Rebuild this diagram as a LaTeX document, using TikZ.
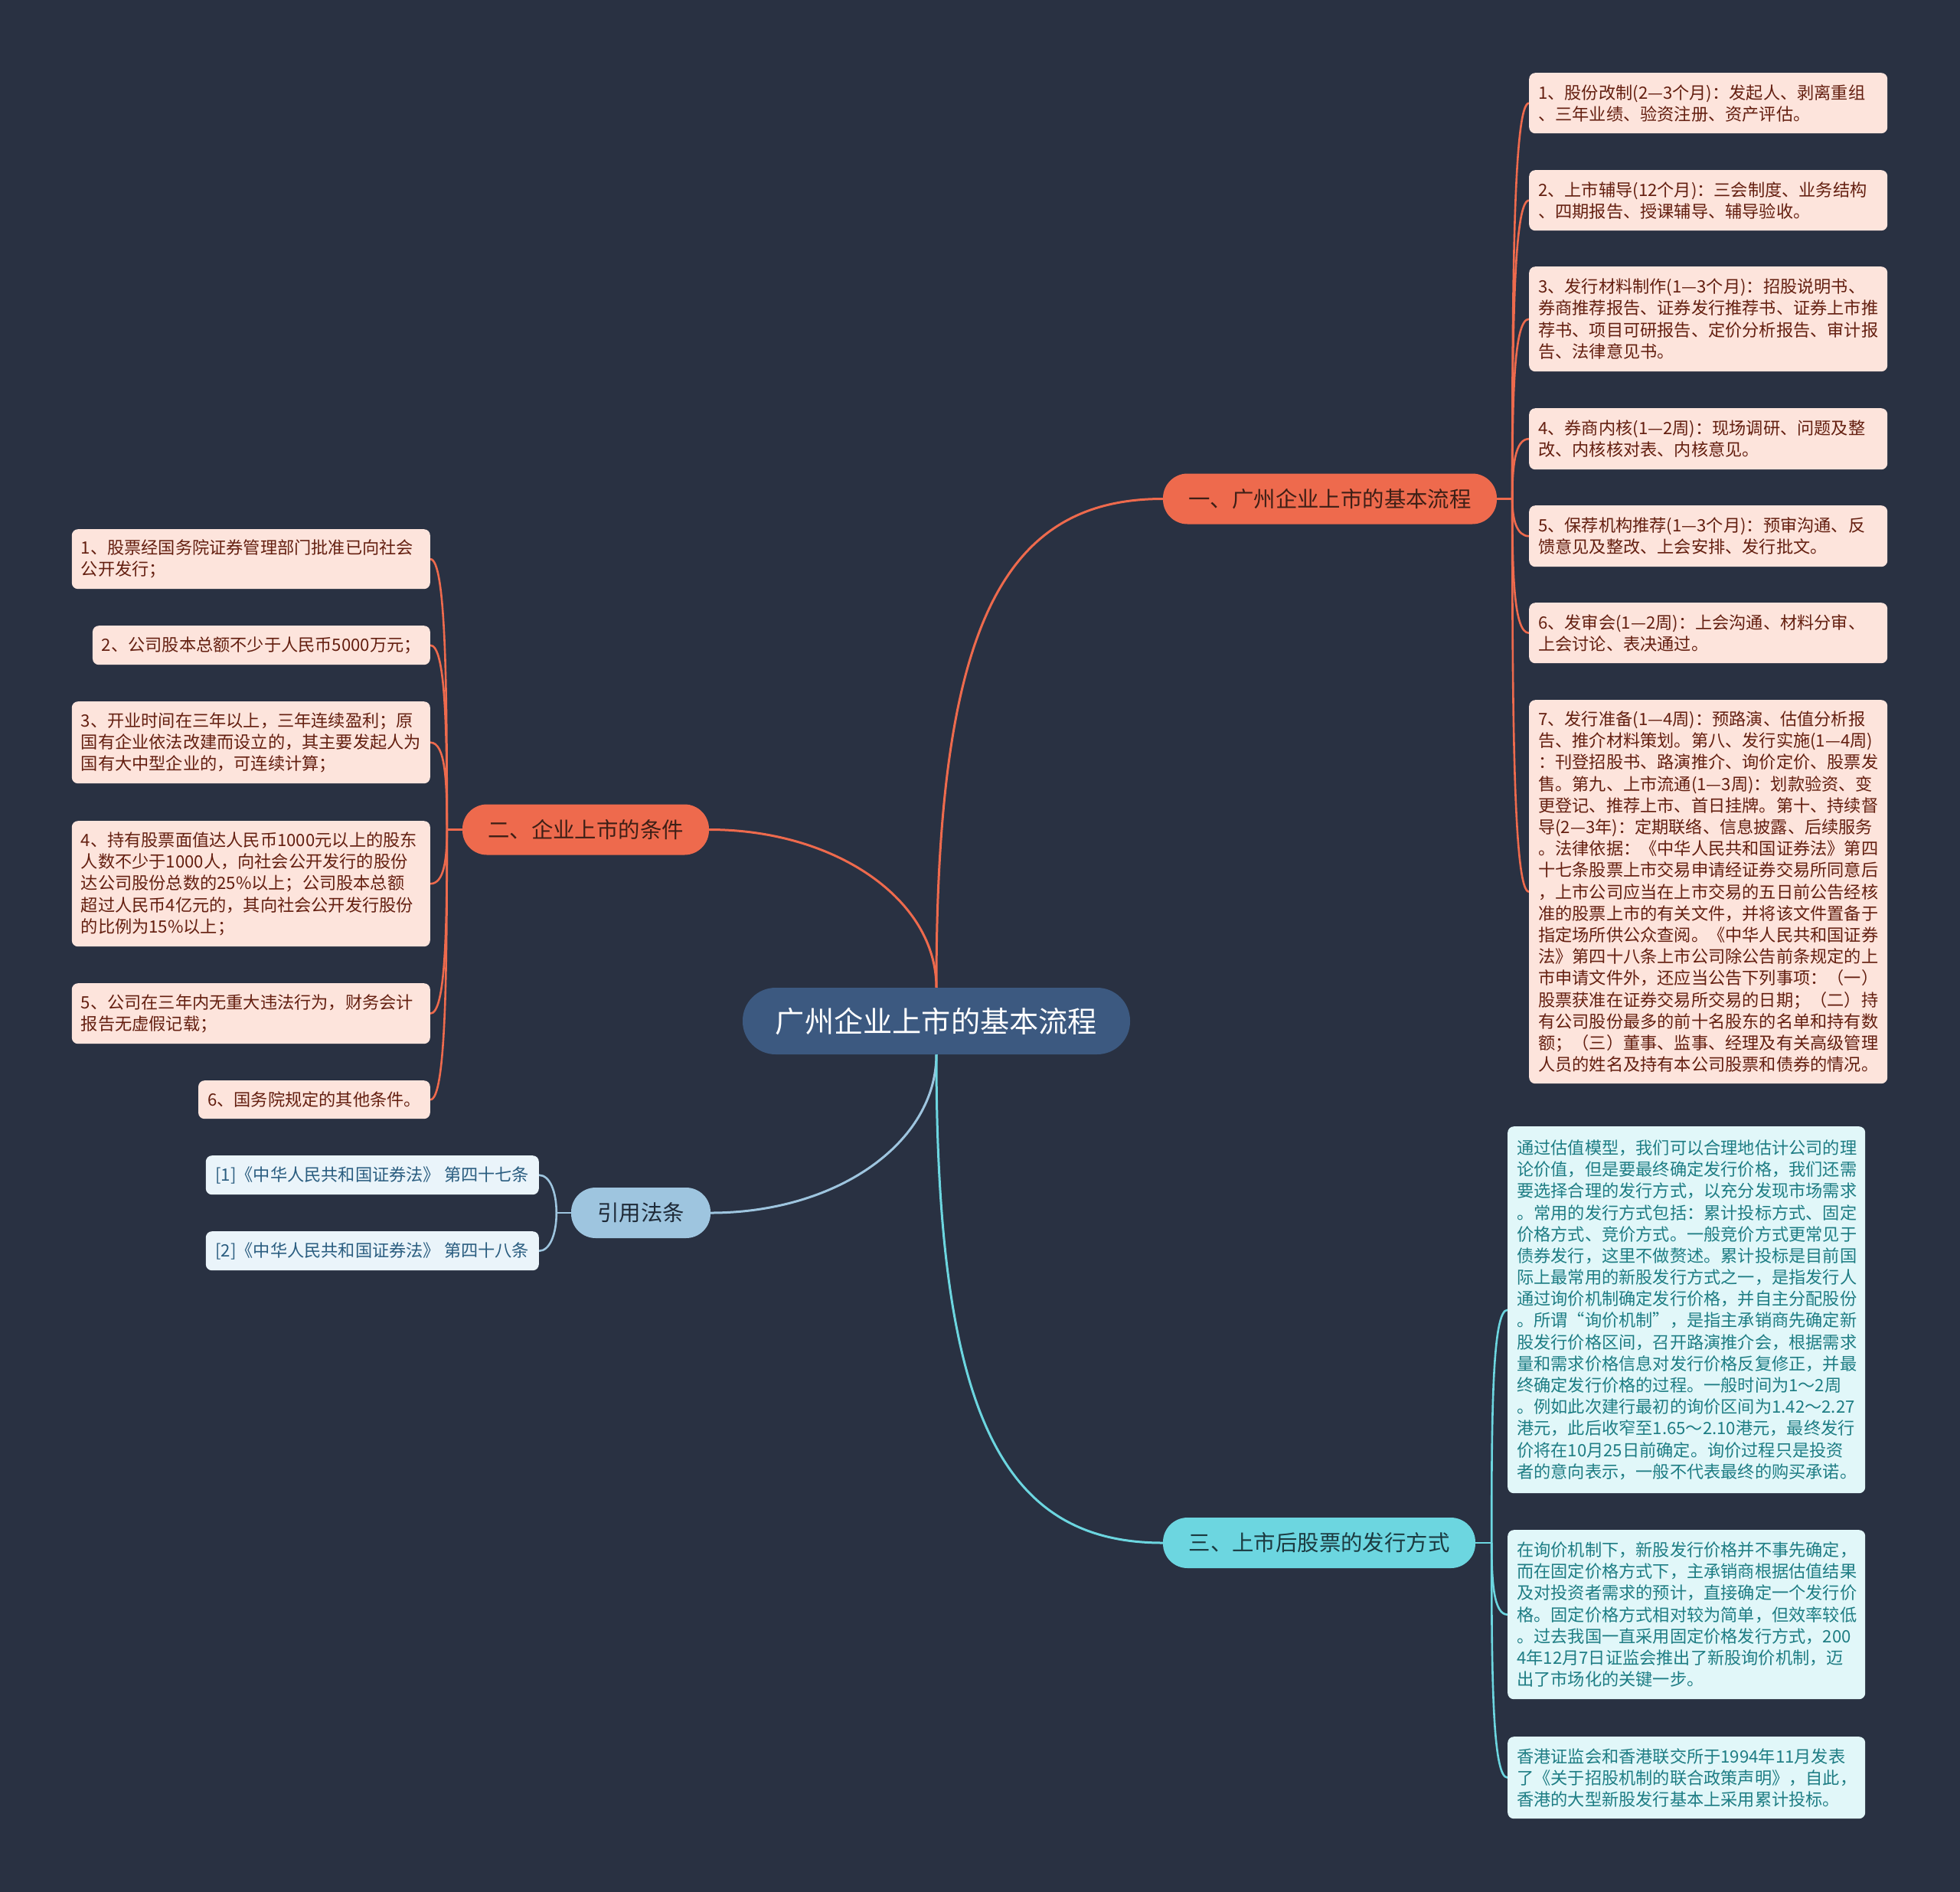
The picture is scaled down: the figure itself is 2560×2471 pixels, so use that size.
\documentclass[tikz,border=0pt]{standalone}
\usepackage{fontspec}
\setmainfont{Noto Sans CJK SC}
\usetikzlibrary{calc}
\pgfdeclarelayer{back}
\pgfdeclarelayer{edges}
\pgfsetlayers{back,edges,main}
\definecolor{bgc}{HTML}{293142}
\definecolor{rootc}{HTML}{3C5980}
\definecolor{orangec}{HTML}{EE6A4D}
\definecolor{otext}{HTML}{3E1F16}
\definecolor{pinkf}{HTML}{FDE4DC}
\definecolor{brownt}{HTML}{641F10}
\definecolor{cyanc}{HTML}{6CD6E0}
\definecolor{ctext}{HTML}{1B3A40}
\definecolor{cyanf}{HTML}{E1F7F9}
\definecolor{tealt}{HTML}{1E7D84}
\definecolor{bluec}{HTML}{9EC5DF}
\definecolor{btext}{HTML}{1E2A38}
\definecolor{bluef}{HTML}{EAF4FA}
\definecolor{bluet}{HTML}{2A5D80}
\newcommand\leaffont{\fontsize{22.2}{28.2}\selectfont}
\newcommand\branchfont{\fontsize{28.4}{34}\selectfont}
\newcommand\rootfont{\fontsize{38.2}{46}\selectfont}
\tikzset{
  rootnode/.style={fill=rootc, text=white, rounded corners=43pt, font=\rootfont, inner sep=0pt, minimum width=506pt, minimum height=87pt},
  obranch/.style={fill=orangec, text=otext, rounded corners=32pt, font=\branchfont, inner sep=0pt, minimum height=66pt},
  cbranch/.style={fill=cyanc, text=ctext, rounded corners=32pt, font=\branchfont, inner sep=0pt, minimum height=66pt},
  bbranch/.style={fill=bluec, text=btext, rounded corners=32pt, font=\branchfont, inner sep=0pt, minimum height=66pt},
  oleaf/.style={fill=pinkf, text=brownt, rounded corners=8pt, inner xsep=12pt, inner ysep=3pt, font=\leaffont, align=left},
  cleaf/.style={fill=cyanf, text=tealt, rounded corners=8pt, inner xsep=12pt, inner ysep=3pt, font=\leaffont, align=left, text width=443pt},
  qleaf/.style={fill=bluef, text=bluet, rounded corners=8pt, inner xsep=10pt, inner ysep=3pt, font=\leaffont, minimum width=435pt, minimum height=51pt},
  oline/.style={draw=orangec, line width=3pt},
  cline/.style={draw=cyanc, line width=3pt},
  bline/.style={draw=bluec, line width=3pt},
  oleafline/.style={draw=orangec, line width=2.6pt},
  cleafline/.style={draw=cyanc, line width=2.6pt},
  bleafline/.style={draw=bluec, line width=2.6pt},
}
\begin{document}
\begin{tikzpicture}[x=1pt,y=-1pt]
\begin{pgfonlayer}{back}
\fill[bgc] (0,0) rectangle (2560,2471);
\end{pgfonlayer}
\useasboundingbox (0,0) rectangle (2560,2471);

% root and branches
\node[rootnode] (c0) at (1223,1333.5) {广州企业上市的基本流程};
\node[obranch, minimum width=436pt] (b1) at (1737,651.5) {一、广州企业上市的基本流程};
\node[obranch, minimum width=322pt] (b2) at (765,1083.5) {二、企业上市的条件};
\node[bbranch, minimum width=182pt] (bq) at (837,1584) {引用法条};
\node[cbranch, minimum width=408pt] (b3) at (1723,2015) {三、上市后股票的发行方式};

% right orange leaves
\node[oleaf, text width=444pt, anchor=north west, minimum height=79pt] (r1) at (1997,95) {1、股份改制(2—3个月)：发起人、剥离重组\\、三年业绩、验资注册、资产评估。};
\node[oleaf, text width=444pt, anchor=north west, minimum height=79pt] (r2) at (1997,222) {2、上市辅导(12个月)：三会制度、业务结构\\、四期报告、授课辅导、辅导验收。};
\node[oleaf, text width=444pt, anchor=north west, minimum height=137pt] (r3) at (1997,348) {3、发行材料制作(1—3个月)：招股说明书、\\券商推荐报告、证券发行推荐书、证券上市推\\荐书、项目可研报告、定价分析报告、审计报\\告、法律意见书。};
\node[oleaf, text width=444pt, anchor=north west, minimum height=80pt] (r4) at (1997,533) {4、券商内核(1—2周)：现场调研、问题及整\\改、内核核对表、内核意见。};
\node[oleaf, text width=444pt, anchor=north west, minimum height=80pt] (r5) at (1997,660) {5、保荐机构推荐(1—3个月)：预审沟通、反\\馈意见及整改、上会安排、发行批文。};
\node[oleaf, text width=444pt, anchor=north west, minimum height=79pt] (r6) at (1997,787) {6、发审会(1—2周)：上会沟通、材料分审、\\上会讨论、表决通过。};
\node[oleaf, text width=444pt, anchor=north west, minimum height=501pt] (r7) at (1997,914) {7、发行准备(1—4周)：预路演、估值分析报\\告、推介材料策划。第八、发行实施(1—4周)\\：刊登招股书、路演推介、询价定价、股票发\\售。第九、上市流通(1—3周)：划款验资、变\\更登记、推荐上市、首日挂牌。第十、持续督\\导(2—3年)：定期联络、信息披露、后续服务\\。法律依据：《中华人民共和国证券法》第四\\十七条股票上市交易申请经证券交易所同意后\\，上市公司应当在上市交易的五日前公告经核\\准的股票上市的有关文件，并将该文件置备于\\指定场所供公众查阅。《中华人民共和国证券\\法》第四十八条上市公司除公告前条规定的上\\市申请文件外，还应当公告下列事项：（一）\\股票获准在证券交易所交易的日期；（二）持\\有公司股份最多的前十名股东的名单和持有数\\额；（三）董事、监事、经理及有关高级管理\\人员的姓名及持有本公司股票和债券的情况。};

% left orange leaves
\node[oleaf, text width=444pt, anchor=north east, minimum height=78pt] (l1) at (562,691) {1、股票经国务院证券管理部门批准已向社会\\公开发行；};
\node[oleaf, anchor=north east, minimum height=51pt] (l2) at (562,817) {2、公司股本总额不少于人民币5000万元；};
\node[oleaf, text width=444pt, anchor=north east, minimum height=107pt] (l3) at (562,916) {3、开业时间在三年以上，三年连续盈利；原\\国有企业依法改建而设立的，其主要发起人为\\国有大中型企业的，可连续计算；};
\node[oleaf, text width=444pt, anchor=north east, minimum height=164pt] (l4) at (562,1072) {4、持有股票面值达人民币1000元以上的股东\\人数不少于1000人，向社会公开发行的股份\\达公司股份总数的25\%以上；公司股本总额\\超过人民币4亿元的，其向社会公开发行股份\\的比例为15\%以上；};
\node[oleaf, text width=444pt, anchor=north east, minimum height=79pt] (l5) at (562,1284) {5、公司在三年内无重大违法行为，财务会计\\报告无虚假记载；};
\node[oleaf, anchor=north east, minimum height=50pt] (l6) at (562,1411) {6、国务院规定的其他条件。};

% citations
\node[qleaf, anchor=north east] (q1) at (704,1509) {[1]《中华人民共和国证券法》 第四十七条};
\node[qleaf, anchor=north east] (q2) at (704,1608) {[2]《中华人民共和国证券法》 第四十八条};

% cyan leaves
\node[cleaf, anchor=north west, minimum height=479pt] (k1) at (1969,1471) {通过估值模型，我们可以合理地估计公司的理\\论价值，但是要最终确定发行价格，我们还需\\要选择合理的发行方式，以充分发现市场需求\\。常用的发行方式包括：累计投标方式、固定\\价格方式、竞价方式。一般竞价方式更常见于\\债券发行，这里不做赘述。累计投标是目前国\\际上最常用的新股发行方式之一，是指发行人\\通过询价机制确定发行价格，并自主分配股份\\。所谓“询价机制”，是指主承销商先确定新\\股发行价格区间，召开路演推介会，根据需求\\量和需求价格信息对发行价格反复修正，并最\\终确定发行价格的过程。一般时间为1～2周\\。例如此次建行最初的询价区间为1.42～2.27\\港元，此后收窄至1.65～2.10港元，最终发行\\价将在10月25日前确定。询价过程只是投资\\者的意向表示，一般不代表最终的购买承诺。};
\node[cleaf, anchor=north west, minimum height=221pt] (k2) at (1969,1998) {在询价机制下，新股发行价格并不事先确定，\\而在固定价格方式下，主承销商根据估值结果\\及对投资者需求的预计，直接确定一个发行价\\格。固定价格方式相对较为简单，但效率较低\\。过去我国一直采用固定价格发行方式，200\\4年12月7日证监会推出了新股询价机制，迈\\出了市场化的关键一步。};
\node[cleaf, anchor=north west, minimum height=107pt] (k3) at (1969,2268) {香港证监会和香港联交所于1994年11月发表\\了《关于招股机制的联合政策声明》，自此，\\香港的大型新股发行基本上采用累计投标。};

% junctions
\coordinate (jR) at ($(b1.east)+(20,0)$);
\coordinate (jL) at ($(b2.west)+(-20,0)$);
\coordinate (jC) at ($(b3.east)+(21,0)$);
\coordinate (jQ) at ($(bq.west)+(-19,0)$);

\begin{pgfonlayer}{edges}
% main branches
\draw[oline] (c0.north) to[out=90, in=180, out distance=470pt, in distance=210pt] (b1.west);
\draw[oline] (c0.north) to[out=90, in=0, out distance=115pt, in distance=165pt] (b2.east);
\draw[bline] (c0.south) to[out=270, in=0, out distance=115pt, in distance=165pt] (bq.east);
\draw[cline] (c0.south) to[out=270, in=180, out distance=470pt, in distance=210pt] (b3.west);

% right orange spine
\draw[oleafline] (b1.east) -- (jR);
\draw[oleafline] (jR) to[out=90, in=180, out distance=285pt, in distance=20pt] (r1.west);
\draw[oleafline] (jR) to[out=90, in=180, out distance=215pt, in distance=20pt] (r2.west);
\draw[oleafline] (jR) to[out=90, in=180, out distance=130pt, in distance=20pt] (r3.west);
\draw[oleafline] (jR) to[out=90, in=180, out distance=44pt, in distance=18pt] (r4.west);
\draw[oleafline] (jR) to[out=270, in=180, out distance=27pt, in distance=16pt] (r5.west);
\draw[oleafline] (jR) to[out=270, in=180, out distance=96pt, in distance=20pt] (r6.west);
\draw[oleafline] (jR) to[out=270, in=180, out distance=282pt, in distance=20pt] (r7.west);

% left orange spine
\draw[oleafline] (b2.west) -- (jL);
\draw[oleafline] (jL) to[out=90, in=0, out distance=194pt, in distance=20pt] (l1.east);
\draw[oleafline] (jL) to[out=90, in=0, out distance=132pt, in distance=20pt] (l2.east);
\draw[oleafline] (jL) to[out=90, in=0, out distance=63pt, in distance=20pt] (l3.east);
\draw[oleafline] (jL) to[out=270, in=0, out distance=39pt, in distance=18pt] (l4.east);
\draw[oleafline] (jL) to[out=270, in=0, out distance=132pt, in distance=20pt] (l5.east);
\draw[oleafline] (jL) to[out=270, in=0, out distance=194pt, in distance=20pt] (l6.east);

% citations
\draw[bleafline] (bq.west) -- (jQ);
\draw[bleafline] (jQ) to[out=90, in=0, out distance=28pt, in distance=14pt] (q1.east);
\draw[bleafline] (jQ) to[out=270, in=0, out distance=28pt, in distance=14pt] (q2.east);

% cyan spine
\draw[cleafline] (b3.east) -- (jC);
\draw[cleafline] (jC) to[out=90, in=180, out distance=167pt, in distance=20pt] (k1.west);
\draw[cleafline] (jC) to[out=270, in=180, out distance=51pt, in distance=18pt] (k2.west);
\draw[cleafline] (jC) to[out=270, in=180, out distance=168pt, in distance=20pt] (k3.west);
\end{pgfonlayer}
\end{tikzpicture}
\end{document}
